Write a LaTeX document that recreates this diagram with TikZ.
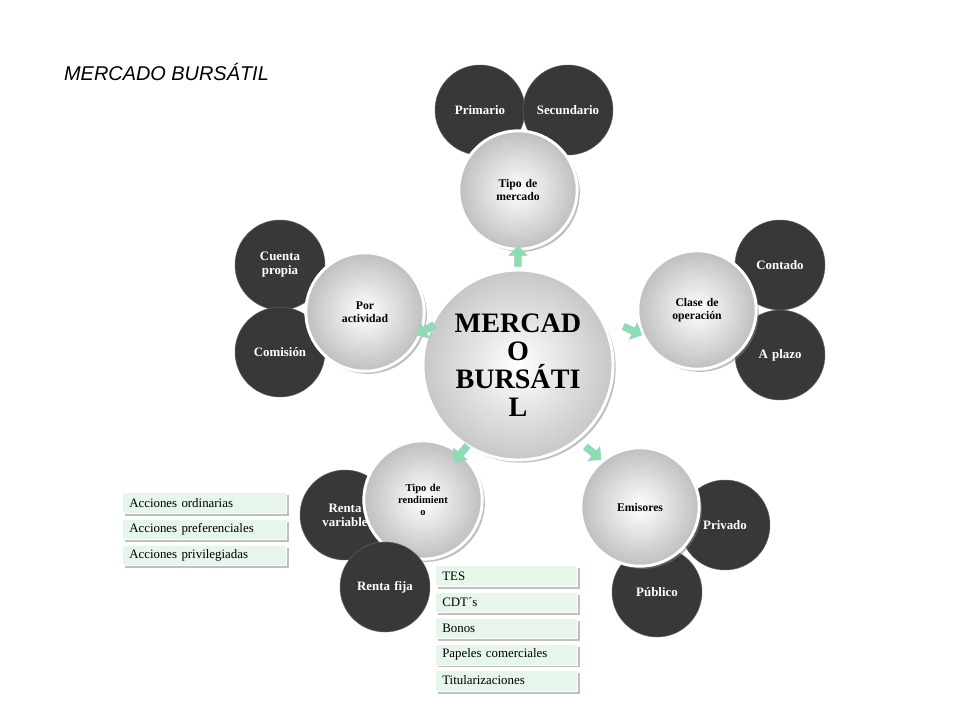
\documentclass[tikz,border=0pt]{standalone}
\usepackage{fontspec}
\setmainfont{Liberation Serif}
\newfontfamily\titlefont{Liberation Sans}
\usetikzlibrary{positioning,shapes.arrows,shadows}

\begin{document}
\begin{tikzpicture} [
	x=0.03cm,y=-0.03cm,
	text centered,
	node distance=0.15cm,
	ncenter/.style={
		circle,minimum size=5.7cm,draw=white,line width=2.5pt,
		inner color=white,outer color=black!22,drop shadow,
		font=\fontsize{24}{24}\selectfont\bfseries,align=center
	},
	nsub/.style={
		circle,minimum size=3.55cm,draw=white,line width=2.5pt,
		inner color=white,outer color=black!25,drop shadow,
		font=\fontsize{10}{11}\selectfont\bfseries,align=center,text width=2cm
	},
	nleaf/.style={
		circle,minimum size=2.7cm,fill=black!78,draw=black!60,
		text=white,font=\fontsize{11}{12}\selectfont\bfseries,align=center,text width=2cm
	},
	nitem/.style={
		rectangle,fill=cyan!25!green!10,draw=white,drop shadow,
		minimum height=0.62cm,anchor=west,
		font=\fontsize{11}{12}\selectfont,align=left,inner xsep=6pt
	},
	nlink/.style={
		single arrow,fill=teal!60!green!45,draw=teal!40,
		minimum height=0.6cm,minimum width=0.55cm,single arrow head extend=2pt,inner sep=1pt
	}
]
\useasboundingbox (0,0) rectangle (960,720);
\node [anchor=west,font=\titlefont\itshape\fontsize{17}{17}\selectfont] (title) at (60,72) {MERCADO BURSÁTIL};

% hojas
\node [nleaf]	(primario)		at (480,110)	{Primario};
\node [nleaf]	(secundario)	at (568,110)	{Secundario};
\node [nleaf]	(contado)		at (780,265)	{Contado};
\node [nleaf]	(aplazo)		at (780,355)	{A plazo};
\node [nleaf]	(privado)		at (725,525)	{Privado};
\node [nleaf]	(publico)		at (657,592)	{Público};
\node [nleaf]	(variable)		at (345,515)	{Renta\\variable};
\node [nleaf]	(cuenta)		at (280,265)	{Cuenta\\propia};
\node [nleaf]	(comision)		at (280,352)	{Comisión};

% nivel medio
\node [nsub]	(mercado)		at (518,190)	{Tipo de\\mercado};
\node [nsub]	(operacion)		at (697,310)	{Clase de\\operación};
\node [nsub]	(emisores)		at (640,507)	{Emisores};
\node [nsub,font=\fontsize{9}{10}\selectfont\bfseries,text width=1.7cm]	(rendimiento)	at (423,500)	{Tipo de\\rendimient\\o};
\node [nsub]	(actividad)		at (365,312)	{Por\\actividad};
\node [nleaf]	(fija)			at (385,587)	{Renta fija};

\node [ncenter]	(centro)		at (518,365)	{MERCAD\\O\\BURSÁTI\\L};

% flechas
\node [nlink,rotate=90]		(a1) at (518,258) {};
\node [nlink,rotate=-25]	(a2) at (631,330) {};
\node [nlink,rotate=-150]	(a3) at (427,329) {};
\node [nlink,rotate=-130]	(a4) at (462,452) {};
\node [nlink,rotate=-40]	(a5) at (592,452) {};

% listas
\node [nitem,text width=4.5cm]	(ordinarias)	at (122,503)	{Acciones ordinarias};
\node [nitem,text width=4.5cm]	(preferenciales)[below=of ordinarias]	{Acciones preferenciales};
\node [nitem,text width=4.5cm]	(privilegiadas)[below=of preferenciales]	{Acciones privilegiadas};
\node [nitem,text width=3.85cm]	(tes)		at (435,576)	{TES};
\node [nitem,text width=3.85cm]	(cdts)		[below=of tes]		{CDT´s};
\node [nitem,text width=3.85cm]	(bonos)		[below=of cdts]		{Bonos};
\node [nitem,text width=3.85cm]	(papeles)	[below=of bonos]	{Papeles comerciales};
\node [nitem,text width=3.85cm]	(titulos)	[below=of papeles]	{Titularizaciones};
\end{tikzpicture}
\end{document}
